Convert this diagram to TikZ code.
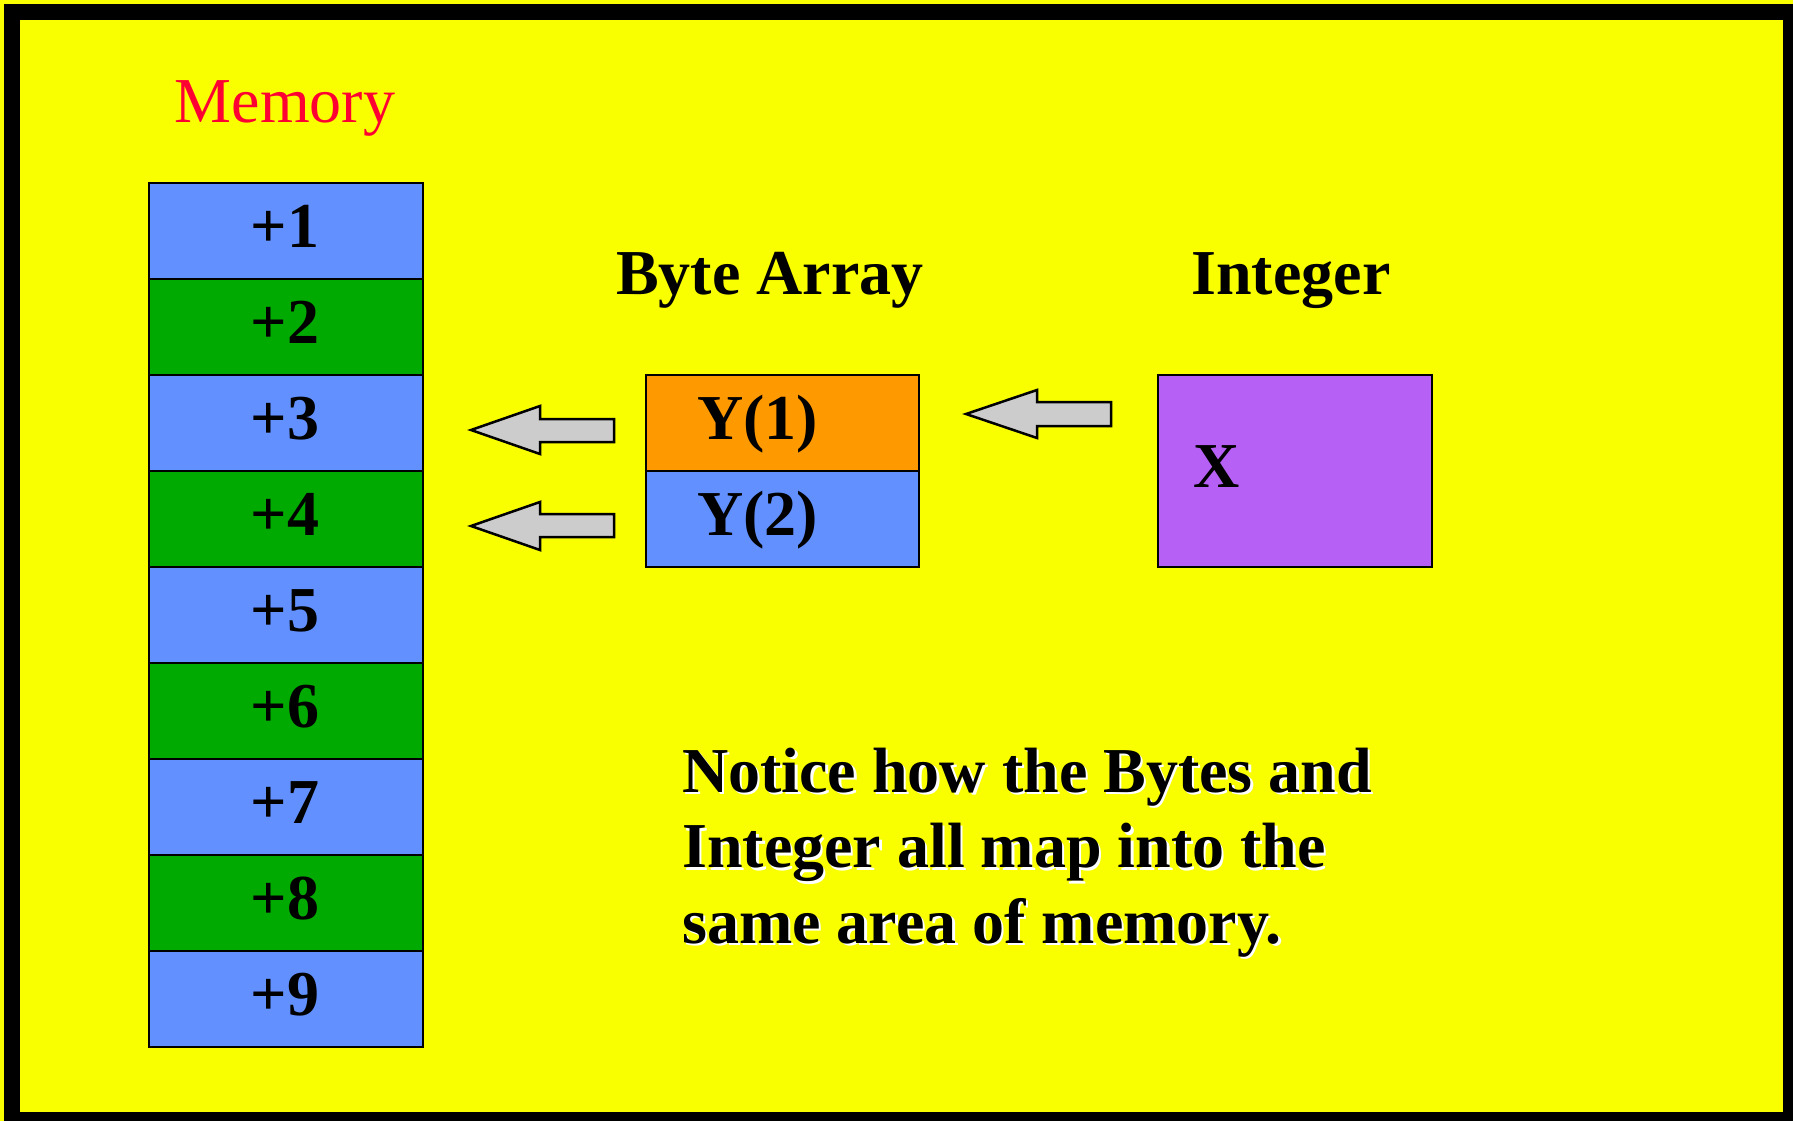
\documentclass[tikz,border=0pt]{standalone}
\usepackage{fontspec}
\setmainfont{Liberation Serif}
\definecolor{bgyellow}{RGB}{250,255,0}
\definecolor{cellblue}{RGB}{98,145,255}
\definecolor{cellgreen}{RGB}{0,170,0}
\definecolor{cellorange}{RGB}{255,153,0}
\definecolor{cellpurple}{RGB}{182,96,245}
\definecolor{arrowgray}{RGB}{204,204,204}
\definecolor{memred}{RGB}{255,0,51}
\tikzset{
  cell/.style={draw=black, line width=2pt, minimum width=274pt, minimum height=96pt, inner sep=0pt, anchor=north west},
  lbl/.style={font=\fontsize{64}{75}\selectfont\bfseries, inner sep=0pt},
  blockarrow/.style={draw=black, line width=2.5pt, fill=arrowgray, line join=miter},
}
\begin{document}
\begin{tikzpicture}[x=1pt,y=-1pt]
\useasboundingbox (0,0) rectangle (1793,1121);
\fill[bgyellow] (0,0) rectangle (1793,1121);
\fill[black] (4,4) rectangle (1800,1130);
\fill[bgyellow] (20,20) rectangle (1783,1112);

% Memory title
\node[font=\fontsize{64}{75}\selectfont, text=memred, inner sep=0pt, anchor=base] (memt) at (285,123) {Memory};

% memory cells
\foreach \i/\c in {1/cellblue,2/cellgreen,3/cellblue,4/cellgreen,5/cellblue,6/cellgreen,7/cellblue,8/cellgreen,9/cellblue}{
  \node[cell, fill=\c] (m\i) at (148,{182+(\i-1)*96}) {};
  \node[lbl, anchor=base] (ml\i) at (285,{182+(\i-1)*96+65}) {+\i};
}

% Byte array
\node[lbl, anchor=base] (bat) at (770,294) {Byte Array};
\node[cell, fill=cellorange, minimum width=273pt] (y1) at (645,374) {};
\node[cell, fill=cellblue, minimum width=273pt] (y2) at (645,470) {};
\node[lbl, anchor=base west] (y1l) at (697,439) {Y(1)};
\node[lbl, anchor=base west] (y2l) at (697,535) {Y(2)};

% Integer
\node[lbl, anchor=base] (intt) at (1291,294) {Integer};
\node[cell, fill=cellpurple, minimum width=274pt, minimum height=192pt] (xb) at (1157,374) {};
\node[lbl, anchor=base west] (xl) at (1193,487) {X};

% block arrows
\draw[blockarrow] (471,430) -- (540,406) -- (540,419) -- (614,419) -- (614,442) -- (540,442) -- (540,454) -- cycle;
\draw[blockarrow] (471,526) -- (540,502) -- (540,514) -- (614,514) -- (614,537) -- (540,537) -- (540,550) -- cycle;
\draw[blockarrow] (966,414) -- (1037,390) -- (1037,402) -- (1111,402) -- (1111,426) -- (1037,426) -- (1037,438) -- cycle;

% notice text with shadow (base anchor = baseline of last line)
\node[lbl, anchor=base west, align=left, text=white, font=\fontsize{64}{75.5}\selectfont\bfseries] (notes) at (684.5,945.5) {Notice how the Bytes and\\Integer all map into the\\same area of memory.};
\node[lbl, anchor=base west, align=left, font=\fontsize{64}{75.5}\selectfont\bfseries] (note) at (682,943) {Notice how the Bytes and\\Integer all map into the\\same area of memory.};
\end{tikzpicture}
\end{document}
